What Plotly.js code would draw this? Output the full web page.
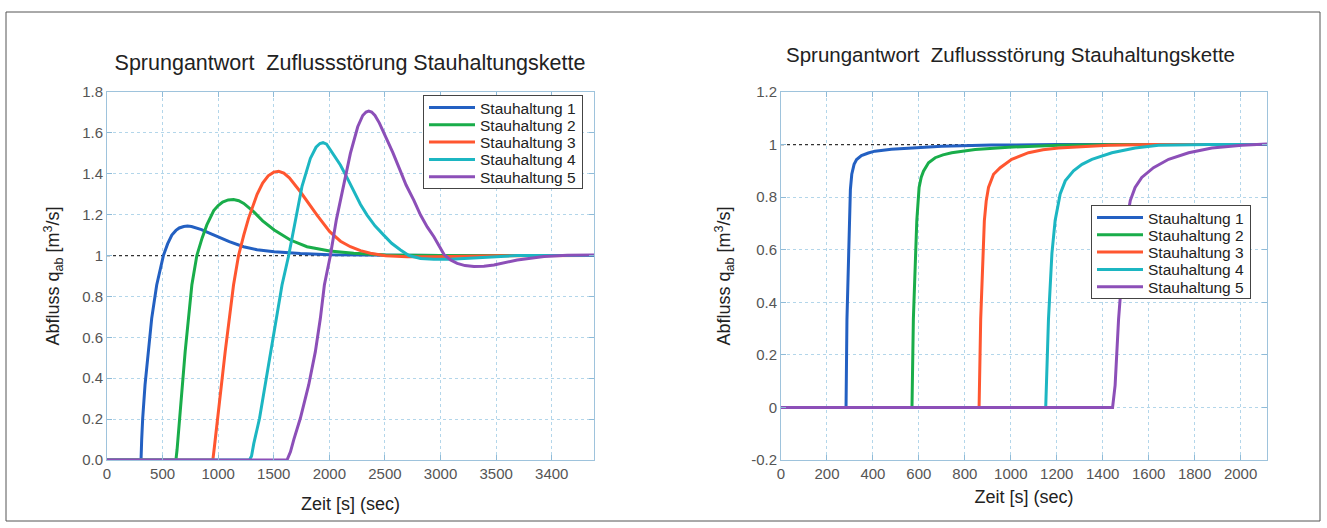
<!DOCTYPE html>
<html>
<head>
<meta charset="utf-8">
<script src="https://cdn.plot.ly/plotly-3.0.1.min.js"></script>
<style>html,body{margin:0;padding:0;background:#fff;}#chart{width:1327px;height:528px;}</style>
</head>
<body>
<div id="chart"></div>
<script>
// ---------- data: left chart ----------
const seriesNames = ["Stauhaltung 1", "Stauhaltung 2", "Stauhaltung 3", "Stauhaltung 4", "Stauhaltung 5"];
const seriesColors = ["#2360c2", "#19ad4a", "#ff5630", "#1cb6c2", "#8c4fb8"];

const leftT1 = [0, 300, 306, 312, 321, 342, 372, 402, 447, 477, 507, 545, 583, 620, 650, 690, 724, 760, 800, 850, 900, 950, 1003, 1100, 1228, 1350, 1504, 1739, 2000, 2500, 3000, 4380];
const leftQ1 = [0, 0, 0, 0.1, 0.204, 0.367, 0.53, 0.693, 0.856, 0.935, 1.0, 1.057, 1.1, 1.123, 1.135, 1.142, 1.144, 1.142, 1.137, 1.127, 1.115, 1.103, 1.092, 1.068, 1.043, 1.028, 1.019, 1.01, 1.004, 1.001, 1.0, 1.0];

const leftT2 = [0, 620, 630, 652, 703, 763, 808, 855, 898, 960, 1000, 1040, 1090, 1138, 1185, 1230, 1318, 1400, 1504, 1649, 1799, 2003, 2219, 2505, 3000, 4380];
const leftQ2 = [0, 0, 0.05, 0.204, 0.53, 0.856, 1.0, 1.085, 1.15, 1.22, 1.245, 1.262, 1.272, 1.274, 1.268, 1.255, 1.215, 1.17, 1.125, 1.076, 1.043, 1.022, 1.011, 1.003, 1.0, 1.0];

const leftT3 = [0, 952, 965, 994, 1063, 1138, 1183, 1230, 1273, 1350, 1400, 1450, 1500, 1544, 1590, 1640, 1739, 1889, 2003, 2100, 2189, 2280, 2369, 2505, 2700, 2940, 3200, 3500, 4380];
const leftQ3 = [0, 0, 0.06, 0.204, 0.53, 0.856, 1.0, 1.1, 1.182, 1.3, 1.355, 1.39, 1.408, 1.412, 1.403, 1.38, 1.312, 1.198, 1.117, 1.07, 1.043, 1.024, 1.011, 0.999, 0.994, 0.994, 0.997, 0.999, 1.0];

const leftT4 = [0, 1282, 1300, 1320, 1372, 1474, 1529, 1574, 1634, 1694, 1754, 1829, 1880, 1915, 1943, 1975, 2020, 2099, 2160, 2219, 2280, 2339, 2410, 2489, 2560, 2640, 2715, 2820, 2940, 3090, 3250, 3390, 3690, 4380];
const leftQ4 = [0, 0, 0.02, 0.08, 0.204, 0.53, 0.693, 0.856, 1.0, 1.176, 1.339, 1.475, 1.53, 1.548, 1.552, 1.545, 1.51, 1.443, 1.38, 1.312, 1.25, 1.198, 1.145, 1.1, 1.06, 1.027, 1.0, 0.986, 0.982, 0.982, 0.987, 0.993, 1.0, 1.0];

const leftT5 = [0, 1619, 1650, 1680, 1739, 1814, 1874, 1919, 1955, 2009, 2063, 2123, 2189, 2255, 2300, 2330, 2354, 2380, 2410, 2450, 2510, 2570, 2630, 2690, 2760, 2820, 2880, 2940, 3030, 3090, 3150, 3220, 3300, 3390, 3480, 3580, 3690, 3930, 4140, 4380];
const leftQ5 = [0, 0, 0.04, 0.1, 0.204, 0.367, 0.53, 0.693, 0.856, 1.0, 1.176, 1.339, 1.5, 1.63, 1.685, 1.702, 1.707, 1.702, 1.685, 1.648, 1.58, 1.505, 1.425, 1.345, 1.27, 1.198, 1.14, 1.092, 1.006, 0.978, 0.962, 0.951, 0.946, 0.948, 0.954, 0.965, 0.978, 0.995, 1.002, 1.003];

// ---------- data: right chart ----------
const rightT1 = [0, 283, 287, 296, 302, 308, 318, 329, 350, 380, 409, 480, 554, 700, 917, 1200, 2115];
const rightQ1 = [0, 0, 0.335, 0.711, 0.83, 0.887, 0.925, 0.943, 0.958, 0.968, 0.975, 0.982, 0.987, 0.994, 0.998, 1.0, 1.0];

const rightT2 = [0, 570, 576, 591, 601, 610, 620, 642, 671, 705, 743, 845, 990, 1208, 1500, 2115];
const rightQ2 = [0, 0, 0.335, 0.711, 0.837, 0.875, 0.899, 0.931, 0.95, 0.961, 0.969, 0.981, 0.99, 0.997, 1.0, 1.0];

const rightT3 = [0, 862, 869, 878, 885, 893, 903, 925, 954, 1004, 1077, 1140, 1208, 1425, 1614, 2115];
const rightQ3 = [0, 0, 0.335, 0.586, 0.711, 0.785, 0.837, 0.887, 0.912, 0.944, 0.969, 0.98, 0.987, 0.997, 1.0, 1.0];

const rightT4 = [0, 1152, 1164, 1179, 1193, 1215, 1237, 1273, 1310, 1353, 1440, 1541, 1643, 1861, 2115];
const rightQ4 = [0, 0, 0.335, 0.586, 0.711, 0.812, 0.862, 0.9, 0.925, 0.944, 0.969, 0.987, 0.997, 1.0, 1.0];

const rightT5 = [0, 1443, 1454, 1469, 1491, 1505, 1520, 1541, 1570, 1621, 1687, 1774, 1875, 2006, 2115];
const rightQ5 = [0, 0, 0.084, 0.335, 0.586, 0.711, 0.787, 0.837, 0.875, 0.912, 0.944, 0.969, 0.987, 0.997, 1.002];

// reference level (steady state)
const refLevel = 1;
const leftXMax = 4380;
const rightXMax = 2115;

// tick labels
const leftXTickVals = [0, 500, 1000, 1500, 2000, 2500, 3000, 3500, 4000];
const leftXTickText = ["0", "500", "1000", "1500", "2000", "2500", "3000", "3500", "3400"];
const leftYTickVals = [0, 0.2, 0.4, 0.6, 0.8, 1, 1.2, 1.4, 1.6, 1.8];
const leftYTickText = ["0.0", "0.2", "0.4", "0.6", "0.8", "1", "1.2", "1.4", "1.6", "1.8"];
const rightXTickVals = [0, 200, 400, 600, 800, 1000, 1200, 1400, 1600, 1800, 2000];
const rightXTickText = ["0", "200", "400", "600", "800", "1000", "1200", "1400", "1600", "1800", "2000"];
const rightYTickVals = [-0.2, 0, 0.2, 0.4, 0.6, 0.8, 1, 1.2];
const rightYTickText = ["-0.2", "0", "0.2", "0.4", "0.6", "0.8", "1", "1.2"];

const titleText = "Sprungantwort&nbsp;&nbsp;Zuflussstörung Stauhaltungskette";
const xTitle = "Zeit [s] (sec)";
const yTitle = "Abfluss q<sub>ab</sub> [m<sup>3</sup>/s]";

// ---------- build ----------
const leftT = [leftT1, leftT2, leftT3, leftT4, leftT5];
const leftQ = [leftQ1, leftQ2, leftQ3, leftQ4, leftQ5];
const rightT = [rightT1, rightT2, rightT3, rightT4, rightT5];
const rightQ = [rightQ1, rightQ2, rightQ3, rightQ4, rightQ5];

const traces = [];
traces.push({x: [0, leftXMax], y: [refLevel, refLevel], xaxis: 'x', yaxis: 'y', mode: 'lines',
  line: {color: '#333', width: 1.3, dash: 'dot'}, showlegend: false, hoverinfo: 'skip'});
traces.push({x: [0, rightXMax], y: [refLevel, refLevel], xaxis: 'x2', yaxis: 'y2', mode: 'lines',
  line: {color: '#333', width: 1.3, dash: 'dot'}, showlegend: false, hoverinfo: 'skip'});
for (let i = 0; i < 5; i++) {
  traces.push({x: leftT[i], y: leftQ[i], name: seriesNames[i], xaxis: 'x', yaxis: 'y', mode: 'lines',
    line: {color: seriesColors[i], width: 3}, legend: 'legend'});
}
for (let i = 0; i < 5; i++) {
  traces.push({x: rightT[i], y: rightQ[i], name: seriesNames[i], xaxis: 'x2', yaxis: 'y2', mode: 'lines',
    line: {color: seriesColors[i], width: 3}, legend: 'legend2'});
}

const W = 1327, H = 528;
const FONT = 'Liberation Sans, Arial, sans-serif';
const axisCommon = {
  showgrid: true, gridcolor: '#b3d6ea', griddash: 'dot', gridwidth: 1,
  showline: true, linecolor: '#9ec3dc', linewidth: 1, mirror: 'ticks',
  ticks: 'inside', ticklen: 5, tickcolor: '#8fbbd8', zeroline: false,
  tickfont: {family: FONT, size: 15, color: '#555'},
  fixedrange: true
};
const titleFont = {family: FONT, size: 18, color: '#222'};

const legendCommon = {
  bgcolor: '#fff', bordercolor: '#444', borderwidth: 1, xanchor: 'left', yanchor: 'top',
  font: {family: FONT, size: 15.5, color: '#222'},
  itemwidth: 46, tracegroupgap: 0
};

const layout = {
  width: W, height: H, margin: {l: 0, r: 0, t: 0, b: 0},
  paper_bgcolor: '#fff', plot_bgcolor: '#fff', showlegend: true,
  title: {text: titleText, x: 350 / W, xanchor: 'center', xref: 'paper', y: 1 - 62 / H, yanchor: 'middle',
    font: {family: FONT, size: 21.5, color: '#222'}},
  xaxis: Object.assign({}, axisCommon, {domain: [107 / W, 594 / W], range: [0, leftXMax], anchor: 'y',
    tickvals: leftXTickVals, ticktext: leftXTickText, title: {text: xTitle, font: titleFont, standoff: 16}}),
  yaxis: Object.assign({}, axisCommon, {domain: [68 / H, 436 / H], range: [0, 1.8], anchor: 'x',
    tickvals: leftYTickVals, ticktext: leftYTickText, title: {text: yTitle, font: titleFont, standoff: 17}}),
  xaxis2: Object.assign({}, axisCommon, {domain: [781 / W, 1267 / W], range: [0, rightXMax], anchor: 'y2',
    tickvals: rightXTickVals, ticktext: rightXTickText, title: {text: xTitle, font: titleFont, standoff: 9}}),
  yaxis2: Object.assign({}, axisCommon, {domain: [68 / H, 436 / H], range: [-0.2, 1.2], anchor: 'x2',
    tickvals: rightYTickVals, ticktext: rightYTickText, title: {text: yTitle, font: titleFont, standoff: 15}}),
  legend: Object.assign({}, legendCommon, {x: 423 / W, y: 1 - 95 / H}),
  legend2: Object.assign({}, legendCommon, {x: 1091 / W, y: 1 - 205 / H}),
  annotations: [{text: titleText, xref: 'paper', yref: 'paper', x: 1010 / W, y: 1 - 55 / H,
    xanchor: 'center', yanchor: 'middle', showarrow: false,
    font: {family: FONT, size: 20.5, color: '#222'}}],
  shapes: [{type: 'rect', xref: 'paper', yref: 'paper', x0: 6 / W, x1: 1320 / W, y0: 1 - 521 / H, y1: 1 - 12 / H,
    line: {color: '#555', width: 1}, fillcolor: 'rgba(0,0,0,0)', layer: 'below'}]
};

// compact the legend rows (MATLAB legends are tighter than Plotly's default row height)
function compactLegends(gd) {
  const rowGap = 17.3, firstRow = 12.5, boxH = 93;
  const legends = gd.querySelectorAll('g.legend, g.legend2, g[class^="legend"]');
  const seen = new Set();
  legends.forEach(function (lg) {
    if (seen.has(lg)) return;
    if (!lg.querySelector('rect.bg')) return;
    seen.add(lg);
    const items = lg.querySelectorAll('g.traces');
    items.forEach(function (it, i) {
      const tr = it.getAttribute('transform') || '';
      const m = tr.match(/translate\(\s*([-\d.]+)[ ,]+([-\d.]+)\s*\)/);
      const x = m ? parseFloat(m[1]) : 0;
      it.setAttribute('transform', 'translate(' + x + ',' + (firstRow + i * rowGap) + ')');
    });
    const groups = lg.querySelector('g.groups');
    if (groups) groups.setAttribute('transform', 'translate(0,0)');
    const bg = lg.querySelector('rect.bg');
    if (bg) bg.setAttribute('height', boxH);
  });
}

Plotly.newPlot('chart', traces, layout, {displayModeBar: false, staticPlot: true}).then(compactLegends);
</script>
</body>
</html>
